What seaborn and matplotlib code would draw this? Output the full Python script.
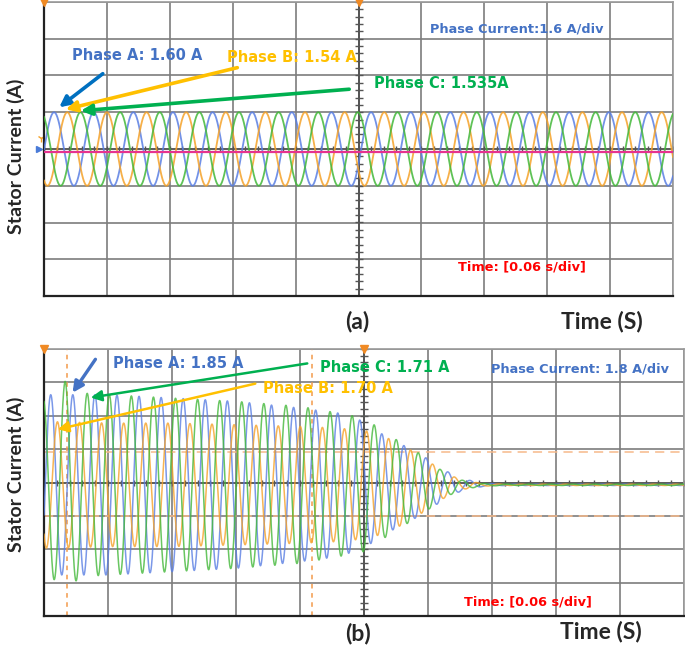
import numpy as np
import pandas as pd
import matplotlib
matplotlib.use('Agg')
import matplotlib.pyplot as plt
import seaborn as sns

sns.set_style('white')
plt.rcParams['font.family'] = ['DejaVu Sans']

W, H = 685, 647

# scope screen: 10 x 8 divisions, values below are in divisions
n_div_x, n_div_y = 10, 8

# (a) steady state, 1.6 A/div
a_amp = [1.0, 1.0, 1.0]          # phase A, B, C peak
a_period = 0.63                  # div per cycle
a_first_peak = [0.16, 0.37, 0.58]
a_ref_level = -0.08              # pink reference trace

# (b) start-up transient, 1.8 A/div
b_period = 0.345
b_first_peak = [0.45, 0.21, 0.33]   # A, B, C
b_level = -0.07

envA_x = [0, 1, 2, 3, 4, 4.6, 5.0, 5.3, 5.6, 5.9, 6.2, 6.5, 6.85, 7.2, 10]
envA_y = [2.7, 2.7, 2.6, 2.5, 2.3, 2.15, 1.9, 1.5, 1.2, 0.9, 0.5, 0.2, 0.05, 0.02, 0.02]
envB_x = [0, 1, 2, 3, 4, 4.6, 5.1, 5.5, 5.9, 6.2, 6.5, 6.85, 7.2, 10]
envB_y = [1.9, 1.85, 1.85, 1.8, 1.75, 1.7, 1.6, 1.3, 0.85, 0.45, 0.15, 0.04, 0.02, 0.02]
envC_x = [0, 0.33, 0.6, 1, 2, 3, 4, 4.6, 5.0, 5.5, 5.9, 6.2, 6.5, 6.85, 7.2, 10]
envC_y = [2.6, 3.1, 2.75, 2.7, 2.6, 2.5, 2.35, 2.15, 2.0, 1.36, 0.9, 0.45, 0.15, 0.04, 0.02, 0.02]

c_blue = '#5A7FE3'
c_orange = '#F5A229'
c_green = '#43B83A'
t_blue = '#4472C4'
t_orange = '#FFC000'
t_green = '#00B050'
grid_c = '#7d7d7d'

t = np.linspace(0, n_div_x, 5000)


def fx(x, y):
    return x / W, 1 - y / H


def scope_axes(ax, mid_x):
    ax.set_xlim(0, n_div_x)
    ax.set_ylim(-n_div_y / 2, n_div_y / 2)
    ax.set_xticks(np.arange(0, n_div_x + 1))
    ax.set_yticks(np.arange(-4, 5))
    ax.grid(True, color=grid_c, lw=1.2)
    ax.tick_params(length=0, labelbottom=False, labelleft=False)
    for s in ['left', 'bottom']:
        ax.spines[s].set_color('#222222')
        ax.spines[s].set_linewidth(1.6)
    for s in ['top', 'right']:
        ax.spines[s].set_color('#9a9a9a')
        ax.spines[s].set_linewidth(1.2)
    # minor ticks on the centre axes
    ax.axvline(mid_x, color='#555555', lw=1.4, zorder=1)
    ax.axhline(0, color='#555555', lw=1.2, zorder=1)
    ax.plot(np.full(41, mid_x), np.arange(-4, 4.01, 0.2), ls='none', marker='_',
            ms=6, color='#555555', mew=1, zorder=1)
    ax.plot(np.arange(0, 10.01, 0.2), np.zeros(51), ls='none', marker='|',
            ms=5, color='#555555', mew=1, zorder=1)
    # trigger / channel markers
    ax.plot([0, mid_x], [4, 4], ls='none', marker='v', ms=6, color='#F08A24',
            clip_on=False, zorder=6)


fig = plt.figure(figsize=(W / 100, H / 100), dpi=100)
ax1 = fig.add_axes([44 / W, 1 - 296 / H, 629 / W, 294 / H])
ax2 = fig.add_axes([44 / W, 1 - 616 / H, 640 / W, 267 / H])

# ---- panel (a)
scope_axes(ax1, 5)
for amp, p0, col in zip(a_amp, a_first_peak, [c_blue, c_orange, c_green]):
    y = amp * np.cos(2 * np.pi * (t - p0) / a_period)
    sns.lineplot(x=t, y=y, ax=ax1, color=col, lw=1.3, alpha=0.85,
                 estimator=None, sort=False, zorder=3)
ax1.axhline(a_ref_level, color='#E5338F', lw=1.6, zorder=4)
ax1.plot([-0.08], [0], marker='>', ms=5, color='#4A7BD8', clip_on=False)
ax1.plot([-0.05], [0.3], marker='1', ms=6, color='#F5A229', clip_on=False)
ax1.set_xlabel('')
ax1.set_ylabel('')

# ---- panel (b)
scope_axes(ax2, 5)
ax2.axhline(0.91, color='#F6B98A', lw=1.1, ls=(0, (6, 4)), zorder=2)
ax2.axhline(-1.0, color='#F6B98A', lw=1.1, ls=(0, (6, 4)), zorder=2)
ax2.axvline(0.36, color='#F39A4A', lw=1.1, ls=(0, (3, 3)), zorder=2)
ax2.axvline(4.18, color='#F39A4A', lw=1.1, ls=(0, (3, 3)), zorder=2)
envs = [(envA_x, envA_y, b_first_peak[0], c_blue),
        (envB_x, envB_y, b_first_peak[1], c_orange),
        (envC_x, envC_y, b_first_peak[2], c_green)]
for ex, ey, p0, col in envs:
    env = np.interp(t, ex, ey)
    y = b_level + env * np.cos(2 * np.pi * (t - p0) / b_period)
    sns.lineplot(x=t, y=y, ax=ax2, color=col, lw=1.1, alpha=0.8,
                 estimator=None, sort=False, zorder=3)
ax2.set_xlabel('')
ax2.set_ylabel('')

# ---- text
lab_font = dict(family='Lato', weight='bold')
fig.text(*fx(16, 156), 'Stator Current (A)', rotation=90, ha='center', va='center',
         fontsize=14, **lab_font)
fig.text(*fx(16, 474), 'Stator Current (A)', rotation=90, ha='center', va='center',
         fontsize=14, **lab_font)
fig.text(*fx(345, 321), '(a)', ha='left', va='center', fontsize=16.5, **lab_font)
fig.text(*fx(345, 633), '(b)', ha='left', va='center', fontsize=16.5, **lab_font)
fig.text(*fx(561, 321), 'Time (S)', ha='left', va='center', fontsize=16.5, **lab_font)
fig.text(*fx(560, 632), 'Time (S)', ha='left', va='center', fontsize=16.5, **lab_font)

bold = dict(weight='bold', ha='left', va='center')
fig.text(*fx(72, 56), 'Phase A: 1.60 A', color=t_blue, fontsize=10.5, **bold)
fig.text(*fx(227, 58), 'Phase B: 1.54 A', color=t_orange, fontsize=10.5, **bold)
fig.text(*fx(374, 84), 'Phase C: 1.535A', color=t_green, fontsize=10.5, **bold)
fig.text(*fx(430, 29), 'Phase Current:1.6 A/div', color=t_blue, fontsize=9.3, **bold)
fig.text(*fx(458, 267), 'Time: [0.06 s/div]', color='#FF0000', fontsize=9.3, **bold)

fig.text(*fx(113, 363), 'Phase A: 1.85 A', color=t_blue, fontsize=10.5, **bold)
fig.text(*fx(320, 368), 'Phase C: 1.71 A', color=t_green, fontsize=10.5, **bold)
fig.text(*fx(263, 388), 'Phase B: 1.70 A', color=t_orange, fontsize=10.5, **bold)
fig.text(*fx(491, 369), 'Phase Current: 1.8 A/div', color=t_blue, fontsize=9.3, **bold)
fig.text(*fx(464, 602), 'Time: [0.06 s/div]', color='#FF0000', fontsize=9.3, **bold)

# ---- arrows (figure pixel positions of tail -> head)
arrows = [((105, 72), (57, 109), '#0070C0', 2.6),
          ((240, 67), (63, 110), t_orange, 2.6),
          ((352, 89), (78, 111), t_green, 2.6),
          ((97, 357), (71, 395), '#4472C4', 2.4),
          ((310, 363), (88, 398), t_green, 1.8),
          ((258, 383), (55, 430), t_orange, 1.8)]
for tail, head, col, lw in arrows:
    fig.add_artist(matplotlib.patches.FancyArrowPatch(
        fx(*tail), fx(*head), transform=fig.transFigure, arrowstyle='-|>',
        mutation_scale=16, color=col, lw=lw, zorder=10))

fig.savefig('out.png', dpi=100)
